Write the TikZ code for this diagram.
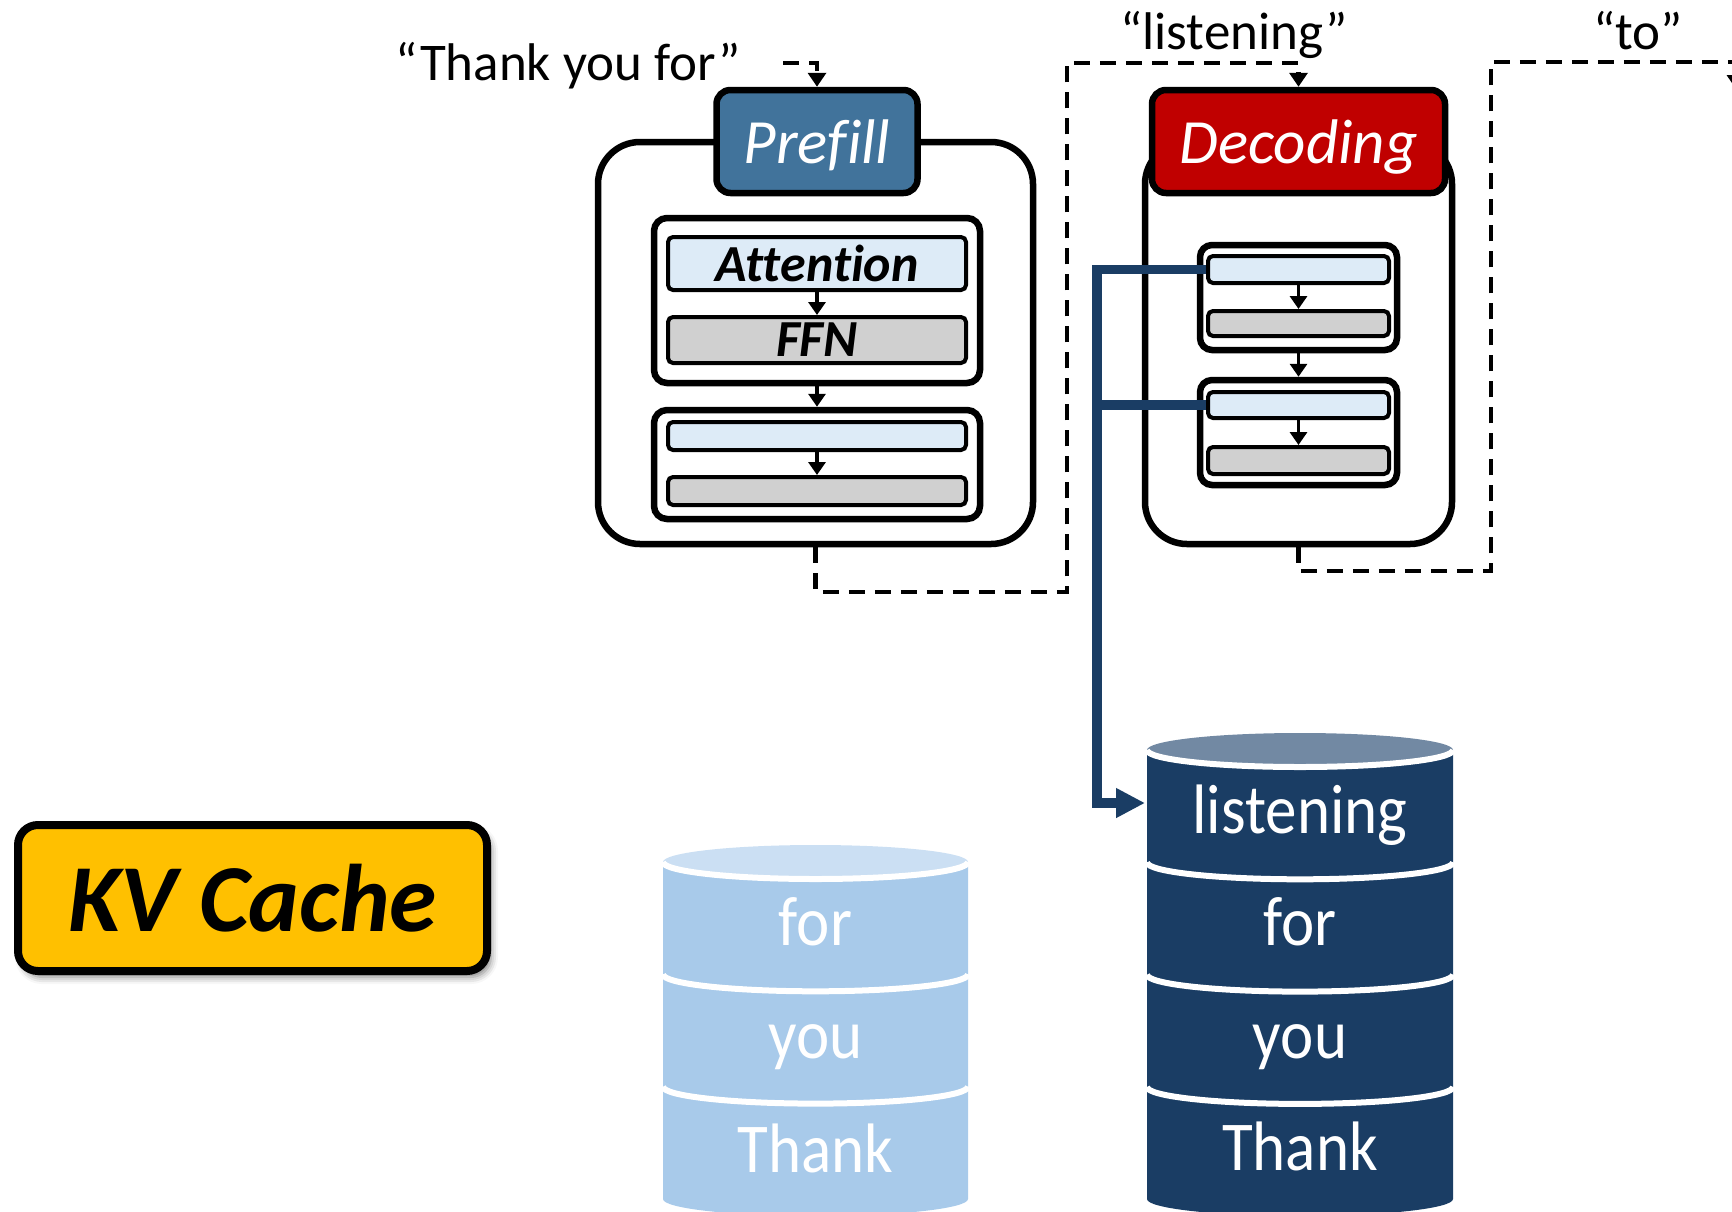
\documentclass[tikz,border=0pt]{standalone}
\usepackage{fontspec}
\setmainfont{Carlito}[Ligatures=NoCommon]
\usetikzlibrary{arrows.meta,shadows.blur,calc}

\definecolor{prefillblue}{RGB}{65,115,155}
\definecolor{decodered}{RGB}{192,0,0}
\definecolor{attnfill}{RGB}{221,235,247}
\definecolor{ffnfill}{RGB}{208,208,208}
\definecolor{kvyellow}{RGB}{255,192,0}
\definecolor{cachelight}{RGB}{168,202,234}
\definecolor{cachelighttop}{RGB}{203,223,243}
\definecolor{cachedark}{RGB}{26,61,100}
\definecolor{cachedarktop}{RGB}{114,137,163}

\newcommand{\fsz}[1]{\fontsize{#1}{#1}\selectfont}
\newcommand{\cachestr}[1]{\scalebox{0.9}[1]{#1}}

\begin{document}
\begin{tikzpicture}[x=1pt,y=-1pt,
  stagebox/.style={draw=black,line width=6.5pt,fill=white,rounded corners=42pt,inner sep=0pt},
  header/.style={draw=black,line width=6.5pt,rounded corners=14pt,inner sep=0pt,
    text=white,text depth=0pt,font=\fsz{63}\itshape},
  layerbox/.style={draw=black,line width=6.5pt,fill=white,rounded corners=13pt,inner sep=0pt},
  attnbar/.style={draw=black,line width=4pt,fill=attnfill,rounded corners=5pt,inner sep=0pt,
    text depth=0pt,font=\fsz{52}\bfseries\itshape},
  ffnbar/.style={attnbar,fill=ffnfill},
  flow/.style={line width=3.5pt,-{Triangle[length=13pt,width=17pt]}},
  tokenflow/.style={line width=4.5pt,dash pattern=on 16pt off 10pt,
    -{Triangle[length=14pt,width=18pt]}},
  tokenlabel/.style={anchor=base,inner sep=0pt,font=\fsz{53}},
  cachetext/.style={anchor=base,inner sep=0pt,text=white,font=\fsz{70}},
  kvline/.style={draw=cachedark,line width=9.5pt,line join=miter},
  seam/.style={draw=white,line width=6pt}
]
\useasboundingbox (0,0) rectangle (1732,1211);
\clip (0,0) rectangle (1732,1211);

% ---------- prefill stage ----------
\node[stagebox,minimum width=435pt,minimum height=402pt] (pouter) at (815.5,343) {};
\node[header,fill=prefillblue,minimum width=201pt,minimum height=103pt] (prefill) at (817,141.5) {Prefill};
\node[layerbox,minimum width=326pt,minimum height=165pt] (pl1) at (817,300.5) {};
\node[attnbar,minimum width=298pt,minimum height=53pt] (patt) at (817,263.5) {Attention};
\node[ffnbar,minimum width=298pt,minimum height=46pt] (pffn) at (817,340) {FFN};
\node[layerbox,minimum width=326pt,minimum height=109pt] (pl2) at (817,464.5) {};
\node[attnbar,minimum width=298pt,minimum height=28pt] (p2a) at (817,436) {};
\node[ffnbar,minimum width=298pt,minimum height=28pt] (p2b) at (817,491) {};
\draw[flow] (patt.south) -- (pffn.north);
\draw[flow] (pl1.south) -- (pl2.north);
\draw[flow] (p2a.south) -- (p2b.north);

% ---------- decoding stage ----------
\node[stagebox,minimum width=307pt,minimum height=402pt] (douter) at (1298.5,343) {};
\node[header,fill=decodered,minimum width=293pt,minimum height=103pt] (dec) at (1298.5,141.5) {Decoding};
\node[layerbox,rounded corners=12pt,minimum width=197pt,minimum height=105pt] (dl1) at (1298.5,297.5) {};
\node[attnbar,minimum width=181pt,minimum height=27pt] (d1a) at (1298.5,269.5) {};
\node[ffnbar,minimum width=181pt,minimum height=25pt] (d1b) at (1298.5,323.5) {};
\node[layerbox,rounded corners=12pt,minimum width=197pt,minimum height=105pt] (dl2) at (1298.5,432.5) {};
\node[attnbar,minimum width=181pt,minimum height=26pt] (d2a) at (1298.5,405) {};
\node[ffnbar,minimum width=181pt,minimum height=27pt] (d2b) at (1298.5,460.5) {};
\draw[flow] (d1a.south) -- (d1b.north);
\draw[flow] (dl1.south) -- (dl2.north);
\draw[flow] (d2a.south) -- (d2b.north);

% ---------- token labels and feedback loops ----------
\node[tokenlabel] (qprompt) at (568,80) {“Thank you for”};
\node[tokenlabel] (qlisten) at (1234,49) {“listening”};
\node[tokenlabel] (qto) at (1638,49) {“to”};

\coordinate (promptend) at (783,63);
\draw[tokenflow] (promptend) -| (prefill.north);

\coordinate (loopA1) at (1067,592);
\coordinate (loopA2) at (1067,63);
\draw[tokenflow] (pouter.south) |- (loopA1) -- (loopA2) -| (dec.north);

\coordinate (loopB1) at (1491,571);
\coordinate (loopB2) at (1491,62);
\coordinate (nextstage) at (1736,89);
\draw[tokenflow] (douter.south) |- (loopB1) -- (loopB2) -| (nextstage);

% ---------- KV cache label ----------
\node[draw=black,line width=8pt,fill=kvyellow,rounded corners=20pt,
  minimum width=469pt,minimum height=146pt,inner sep=0pt,text depth=0pt,
  font=\fsz{96}\bfseries\itshape,
  blur shadow={shadow xshift=4pt,shadow yshift=-6pt,shadow blur radius=7pt,shadow opacity=50}]
  (kv) at (252.5,898) {KV Cache};

% ---------- cache after prefill (three entries) ----------
\fill[cachelight] (663,862) -- (663,1199)
  arc[start angle=180,end angle=360,x radius=152.5pt,y radius=17pt] -- (968,862) -- cycle;
\fill[cachelighttop] (815.5,862) ellipse [x radius=152.5pt,y radius=17pt];
\foreach \k in {0,1,2}
  \draw[seam] (663,{862+112.3*\k}) arc[start angle=180,end angle=360,x radius=152.5pt,y radius=17pt];
\node[cachetext] (lfor) at (815.5,945) {\cachestr{for}};
\node[cachetext] (lyou) at (815.5,1058) {\cachestr{you}};
\node[cachetext] (lthank) at (815.5,1172) {\cachestr{Thank}};

% ---------- cache after one decoding step (four entries) ----------
\fill[cachedark] (1147,750) -- (1147,1199)
  arc[start angle=180,end angle=360,x radius=153pt,y radius=17pt] -- (1453,750) -- cycle;
\fill[cachedarktop] (1300,750) ellipse [x radius=153pt,y radius=17pt];
\foreach \k in {0,1,2,3}
  \draw[seam] (1147,{750+112.3*\k}) arc[start angle=180,end angle=360,x radius=153pt,y radius=17pt];
\node[cachetext] (dlisten) at (1300,833) {\cachestr{listening}};
\node[cachetext] (dfor) at (1300,945) {\cachestr{for}};
\node[cachetext] (dyou) at (1300,1058) {\cachestr{you}};
\node[cachetext] (dthank) at (1300,1170) {\cachestr{Thank}};
\coordinate (darkslot) at (1145,803);

% ---------- attention layers write into the cache ----------
\coordinate (bus) at (1097,269.5);
\draw[kvline,-{Triangle[length=29pt,width=28pt]}] (d1a.west) -- (bus) |- (darkslot);
\draw[kvline] (d2a.west) -- (d2a.west -| bus);
\end{tikzpicture}
\end{document}
